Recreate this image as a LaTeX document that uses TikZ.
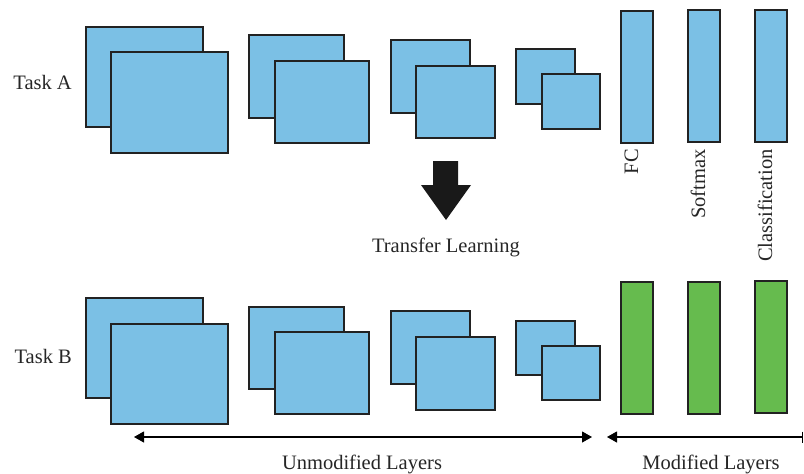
\documentclass[tikz,border=0pt]{standalone}
\usepackage{fontspec}
\setmainfont{Liberation Serif}
\usetikzlibrary{arrows.meta}
\definecolor{layerblue}{HTML}{7BC0E5}
\definecolor{layergreen}{HTML}{66BB4E}
\definecolor{edge}{HTML}{222222}
\begin{document}
\begin{tikzpicture}[x=1pt,y=-1pt,
  blue layer/.style={fill=layerblue,draw=edge,line width=1.2pt},
  green layer/.style={fill=layergreen,draw=edge,line width=1.2pt},
  lbl/.style={font=\fontsize{20.5}{24}\selectfont,text=black!85,inner sep=0pt},
  span/.style={line width=1.1pt,{Triangle[length=10pt,width=11pt]}-{Triangle[length=10pt,width=11pt]}}]
\useasboundingbox (0,0) rectangle (804,474);
% ---- Task A ----
\node[lbl,anchor=base east] (taskA) at (72,89) {Task A};
\draw[blue layer] (86,27) rectangle (203,127);
\draw[blue layer] (111,52) rectangle (228,153);
\draw[blue layer] (249,35) rectangle (344,118);
\draw[blue layer] (275,61) rectangle (369,143);
\draw[blue layer] (391,40) rectangle (470,113);
\draw[blue layer] (416,66) rectangle (495,138);
\draw[blue layer] (516,49) rectangle (575,104);
\draw[blue layer] (542,74) rectangle (600,129);
\draw[blue layer] (621,11) rectangle (653,143);
\draw[blue layer] (688,10) rectangle (720,142);
\draw[blue layer] (755,10) rectangle (787,142);
\node[lbl,anchor=base east,rotate=90] (fc) at (638,149) {FC};
\node[lbl,anchor=base east,rotate=90] (softmax) at (705,149) {Softmax};
\node[lbl,anchor=base east,rotate=90] (classif) at (772,149) {Classification};
% ---- transfer arrow ----
\fill[black!90] (433,161) -- (458,161) -- (458,185) -- (471,185) -- (446,220)
  -- (421,185) -- (433,185) -- cycle;
\node[lbl,anchor=base] (transfer) at (446,252) {Transfer Learning};
% ---- Task B ----
\node[lbl,anchor=base east] (taskB) at (72,363) {Task B};
\draw[blue layer] (86,298) rectangle (203,398);
\draw[blue layer] (111,324) rectangle (228,424);
\draw[blue layer] (249,307) rectangle (344,389);
\draw[blue layer] (275,332) rectangle (369,414);
\draw[blue layer] (391,311) rectangle (470,384);
\draw[blue layer] (416,337) rectangle (495,410);
\draw[blue layer] (516,321) rectangle (575,375);
\draw[blue layer] (542,346) rectangle (600,400);
\draw[green layer] (621,282) rectangle (653,414);
\draw[green layer] (688,282) rectangle (720,414);
\draw[green layer] (755,281) rectangle (787,413);
% ---- spans ----
\coordinate (uL) at (134,437);
\coordinate (uR) at (592,437);
\coordinate (mL) at (607,437);
\coordinate (mR) at (803,437);
\draw[span] (uL) -- (uR);
\draw[line width=1.1pt,{Triangle[length=10pt,width=11pt]}-{Bar[width=11pt]}] (mL) -- (mR);
\node[lbl,anchor=base] (unmod) at (362,469) {Unmodified Layers};
\node[lbl,anchor=base] (mod) at (711,469) {Modified Layers};
\end{tikzpicture}
\end{document}
